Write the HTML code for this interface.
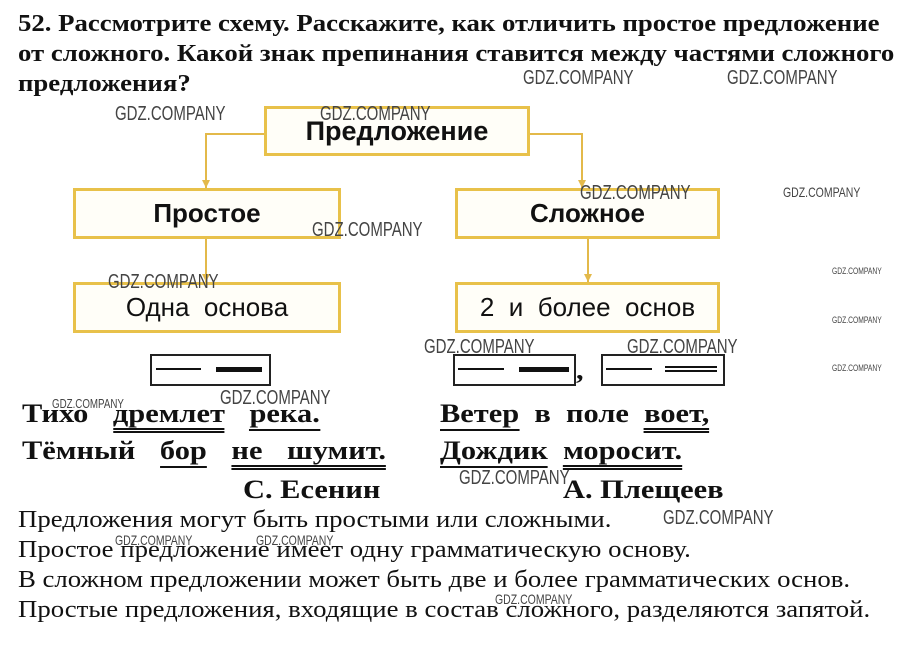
<!DOCTYPE html>
<html><head><meta charset="utf-8"><style>
body{margin:0;width:909px;height:645px;background:#fff;position:relative;overflow:hidden;font-family:"Liberation Serif","DejaVu Serif",serif;color:#111}
.a{position:absolute;white-space:nowrap;transform-origin:left top}
.h{font-weight:bold;font-size:24px;left:18px;transform:scaleX(1.115)}
.box{position:absolute;border:3px solid #e8c14a;box-sizing:border-box;background:#fffef8;display:flex;align-items:center;justify-content:center;font-family:"Liberation Sans","DejaVu Sans",sans-serif;font-size:26px}
.b{font-weight:bold}
.ln{position:absolute;background:#e3b94a}
.ar{position:absolute;width:0;height:0;border-left:4px solid transparent;border-right:4px solid transparent;border-top:8px solid #e3b94a}
.f{position:absolute;border:2px solid #222;box-sizing:border-box}
.d{position:absolute;height:3px;background:#111}
.p{font-weight:bold;font-size:26px;transform:scaleX(1.17)}
.p2{word-spacing:4px}
.u1{border-bottom:2px solid #111;padding-bottom:1px}
.u2{border-bottom:5px double #111}
.t{font-size:24px;left:18px;transform:scaleX(1.115)}
.w{position:absolute;font-family:"Liberation Sans",sans-serif;color:#444;font-size:20px;transform:scaleX(.75);transform-origin:left;white-space:nowrap}
.ws{font-size:11px}
</style></head><body>
<div class="a h" style="top:11px">52. Рассмотрите схему. Расскажите, как отличить простое предложение</div>
<div class="a h" style="top:41px">от сложного. Какой знак препинания ставится между частями сложного</div>
<div class="a h" style="top:71px">предложения?</div>

<div class="ln" style="left:205px;top:133px;width:62px;height:2px"></div>
<div class="ln" style="left:205px;top:133px;width:2px;height:55px"></div>
<div class="ar" style="left:202px;top:180px"></div>
<div class="ln" style="left:527px;top:133px;width:56px;height:2px"></div>
<div class="ln" style="left:581px;top:133px;width:2px;height:55px"></div>
<div class="ar" style="left:578px;top:180px"></div>
<div class="ln" style="left:205px;top:238px;width:2px;height:44px"></div>
<div class="ar" style="left:202px;top:274px"></div>
<div class="ln" style="left:587px;top:238px;width:2px;height:44px"></div>
<div class="ar" style="left:584px;top:274px"></div>

<div class="box b" style="left:264px;top:106px;width:266px;height:50px;font-size:27px">Предложение</div>
<div class="box b" style="left:73px;top:188px;width:268px;height:51px">Простое</div>
<div class="box b" style="left:455px;top:188px;width:265px;height:51px">Сложное</div>
<div class="box" style="left:73px;top:282px;width:268px;height:51px">Одна&nbsp; основа</div>
<div class="box" style="left:455px;top:282px;width:265px;height:51px">2&nbsp; и&nbsp; более&nbsp; основ</div>

<div class="f" style="left:150px;top:354px;width:121px;height:32px"></div>
<div class="d" style="left:156px;top:368px;width:45px;height:2px"></div>
<div class="d" style="left:216px;top:367px;width:46px;height:5px"></div>
<div class="f" style="left:453px;top:354px;width:123px;height:32px"></div>
<div class="d" style="left:458px;top:368px;width:46px;height:2px"></div>
<div class="d" style="left:519px;top:367px;width:50px;height:5px"></div>
<div class="a p" style="left:576px;top:356px">,</div>
<div class="f" style="left:601px;top:354px;width:124px;height:32px"></div>
<div class="d" style="left:606px;top:368px;width:46px;height:2px"></div>
<div class="d" style="left:665px;top:366px;width:52px;height:2px"></div>
<div class="d" style="left:665px;top:370px;width:52px;height:2px"></div>

<div class="a p p2" style="left:22px;top:399px">Тихо&nbsp; <span class="u2">дремлет</span>&nbsp; <span class="u1">река.</span></div>
<div class="a p p2" style="left:22px;top:436px">Тёмный&nbsp; <span class="u1">бор</span>&nbsp; <span class="u2">не&nbsp; шумит.</span></div>
<div class="a p" style="left:243px;top:475px">С. Есенин</div>
<div class="a p" style="left:440px;top:399px"><span class="u1">Ветер</span>&nbsp; в&nbsp; поле&nbsp; <span class="u2">воет,</span></div>
<div class="a p" style="left:440px;top:436px"><span class="u1">Дождик</span>&nbsp; <span class="u2">моросит.</span></div>
<div class="a p" style="left:563px;top:475px">А. Плещеев</div>

<div class="a t" style="top:507px">Предложения могут быть простыми или сложными.</div>
<div class="a t" style="top:537px">Простое предложение имеет одну грамматическую основу.</div>
<div class="a t" style="top:567px">В сложном предложении может быть две и более грамматических основ.</div>
<div class="a t" style="top:597px">Простые предложения, входящие в состав сложного, разделяются запятой.</div>

<div class="w" style="left:523px;top:67px">GDZ.COMPANY</div>
<div class="w" style="left:727px;top:67px">GDZ.COMPANY</div>
<div class="w" style="left:115px;top:103px">GDZ.COMPANY</div>
<div class="w" style="left:320px;top:103px">GDZ.COMPANY</div>
<div class="w" style="left:580px;top:182px">GDZ.COMPANY</div>
<div class="w" style="left:312px;top:219px">GDZ.COMPANY</div>
<div class="w" style="left:108px;top:271px">GDZ.COMPANY</div>
<div class="w" style="left:424px;top:336px">GDZ.COMPANY</div>
<div class="w" style="left:627px;top:336px">GDZ.COMPANY</div>
<div class="w" style="left:220px;top:387px">GDZ.COMPANY</div>
<div class="w" style="left:459px;top:467px">GDZ.COMPANY</div>
<div class="w" style="left:663px;top:507px">GDZ.COMPANY</div>
<div class="w ws" style="left:783px;top:184px;font-size:14px">GDZ.COMPANY</div>
<div class="w ws" style="left:832px;top:266px;font-size:9px">GDZ.COMPANY</div>
<div class="w ws" style="left:832px;top:315px;font-size:9px">GDZ.COMPANY</div>
<div class="w ws" style="left:832px;top:363px;font-size:9px">GDZ.COMPANY</div>
<div class="w ws" style="left:52px;top:396px;font-size:13px">GDZ.COMPANY</div>
<div class="w ws" style="left:115px;top:532px;font-size:14px">GDZ.COMPANY</div>
<div class="w ws" style="left:256px;top:532px;font-size:14px">GDZ.COMPANY</div>
<div class="w ws" style="left:495px;top:591px;font-size:14px">GDZ.COMPANY</div>
</body></html>
